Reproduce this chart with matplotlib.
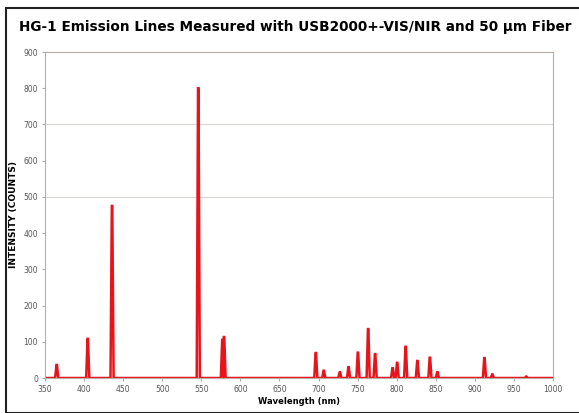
import matplotlib.pyplot as plt
from matplotlib.patches import Rectangle

# Emission lines (nm, counts)
hg_lines = [365.0, 404.7, 435.8, 546.1, 577.0, 579.1]
hg_counts = [36, 108, 475, 800, 105, 113]
ar_lines = [696.5, 706.7, 727.3, 738.4, 750.4, 763.5, 772.4, 794.8, 800.6,
            811.5, 826.5, 842.5, 852.1, 912.3, 922.4, 965.8]
ar_counts = [69, 20, 16, 30, 70, 135, 66, 27, 42, 86, 47, 56, 16, 55, 10, 4]

x_ticks = list(range(350, 1001, 50))
y_ticks = list(range(0, 901, 100))


def main() -> None:
    lines = hg_lines + ar_lines
    counts = hg_counts + ar_counts

    # spectrum as a sequence of baseline / peak points
    wl = [350.0]
    ct = [0.0]
    for w, c in sorted(zip(lines, counts)):
        wl += [w - 2.0, w - 0.3, w + 0.3, w + 2.0]
        ct += [0.0, c, c, 0.0]
    wl.append(1000.0)
    ct.append(0.0)

    fig = plt.figure(figsize=(5.79, 4.13), dpi=100)
    ax = fig.add_axes([45 / 579, 35 / 413, 508 / 579, 326 / 413])

    ax.plot(wl, ct, color="#e8141c", lw=1.8, solid_joinstyle="miter")

    ax.set_xlim(350, 1000)
    ax.set_ylim(0, 900)
    ax.set_xticks(x_ticks)
    ax.set_yticks(y_ticks)
    ax.tick_params(labelsize=5.5, labelcolor="#555555", length=2, color="#aaaaaa", pad=3)
    for s in ax.spines.values():
        s.set_color("#b8aea6")
        s.set_linewidth(0.8)
    for g in (500, 700):
        ax.axhline(g, color="#d8d4d0", lw=0.8, zorder=0)

    ax.set_xlabel("Wavelength (nm)", fontsize=6, fontweight="bold", labelpad=2)
    ax.set_ylabel("INTENSITY (COUNTS)", fontsize=6.5, fontweight="bold", labelpad=4)

    fig.text(0.51, 0.935, "HG-1 Emission Lines Measured with USB2000+-VIS/NIR and 50 µm Fiber",
             ha="center", va="center", fontsize=9.8, fontweight="bold")

    fig.patches.append(Rectangle((6 / 579, 0), 1, 1 - 8 / 413, transform=fig.transFigure,
                                 fill=False, edgecolor="#222222", lw=1.5))

    fig.savefig("out.png", dpi=100)


if __name__ == "__main__":
    main()
